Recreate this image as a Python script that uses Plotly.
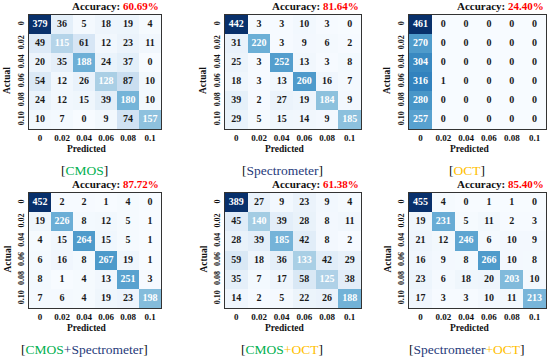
import plotly.graph_objects as go

pred_labels = ["0", "0.02", "0.04", "0.06", "0.08", "0.1"]
actual_labels = ["0", "0.02", "0.04", "0.06", "0.08", "0.10"]

cm_cmos = [[379, 36, 5, 18, 19, 4],
           [49, 115, 61, 12, 23, 11],
           [20, 35, 188, 24, 37, 0],
           [54, 12, 26, 128, 87, 10],
           [24, 12, 15, 39, 180, 10],
           [10, 7, 0, 9, 74, 157]]
cm_spec = [[442, 3, 3, 10, 3, 0],
           [31, 220, 3, 9, 6, 2],
           [25, 3, 252, 13, 3, 8],
           [18, 3, 13, 260, 16, 7],
           [39, 2, 27, 19, 184, 9],
           [29, 5, 15, 14, 9, 185]]
cm_oct = [[461, 0, 0, 0, 0, 0],
          [270, 0, 0, 0, 0, 0],
          [304, 0, 0, 0, 0, 0],
          [316, 1, 0, 0, 0, 0],
          [280, 0, 0, 0, 0, 0],
          [257, 0, 0, 0, 0, 0]]
cm_cmos_spec = [[452, 2, 2, 1, 4, 0],
                [19, 226, 8, 12, 5, 1],
                [4, 15, 264, 15, 5, 1],
                [6, 16, 8, 267, 19, 1],
                [8, 1, 4, 13, 251, 3],
                [7, 6, 4, 19, 23, 198]]
cm_cmos_oct = [[389, 27, 9, 23, 9, 4],
               [45, 140, 39, 28, 8, 11],
               [28, 39, 185, 42, 8, 2],
               [59, 18, 36, 133, 42, 29],
               [35, 7, 17, 58, 125, 38],
               [14, 2, 5, 22, 26, 188]]
cm_spec_oct = [[455, 4, 0, 1, 1, 0],
               [19, 231, 5, 11, 2, 3],
               [21, 12, 246, 6, 10, 9],
               [16, 9, 8, 266, 10, 8],
               [23, 6, 18, 20, 203, 10],
               [17, 3, 3, 10, 11, 213]]

accuracies = ["60.69%", "81.64%", "24.40%", "87.72%", "61.38%", "85.40%"]

GREEN = "#00B050"
BLUE = "#1F3A7A"
GOLD = "#FFC000"
def sp(t, c):
    return f"<span style='color:{c}'>{t}</span>"
names = [
    "[" + sp("CMOS", GREEN) + "]",
    "[" + sp("Spectrometer", BLUE) + "]",
    "[" + sp("OCT", GOLD) + "]",
    "[" + sp("CMOS", GREEN) + sp("+Spectrometer", BLUE) + "]",
    "[" + sp("CMOS", GREEN) + sp("+", GOLD) + sp("OCT", GOLD) + "]",
    "[" + sp("Spectrometer", BLUE) + sp("+", GOLD) + sp("OCT", GOLD) + "]",
]

mats = [cm_cmos, cm_spec, cm_oct, cm_cmos_spec, cm_cmos_oct, cm_spec_oct]

W, H = 550, 360
# layout in pixels
xboxes = [(29, 161), (225, 361), (409, 546)]
yboxes = [(15, 129), (193, 308)]

SERIF = "Liberation Serif, Times New Roman, serif"
fig = go.Figure()
annotations = []
for i, m in enumerate(mats):
    r, c = divmod(i, 3)
    xa = "x" if i == 0 else f"x{i+1}"
    ya = "y" if i == 0 else f"y{i+1}"
    mx = max(max(row) for row in m)
    fig.add_trace(go.Heatmap(
        z=m, x=pred_labels, y=actual_labels, colorscale="Blues",
        zmin=0, zmax=mx, showscale=False, xaxis=xa, yaxis=ya,
        xgap=0, ygap=0, hoverinfo="z"))
    xs, ys, ts, cs = [], [], [], []
    for a, row in enumerate(m):
        for p, v in enumerate(row):
            xs.append(pred_labels[p]); ys.append(actual_labels[a])
            ts.append(f"<b>{v}</b>")
            cs.append("white" if v > 0.25 * mx else "#1a1a1a")
    fig.add_trace(go.Scatter(x=xs, y=ys, text=ts, mode="text",
                             textfont=dict(color=cs, size=10, family=SERIF),
                             xaxis=xa, yaxis=ya, hoverinfo="skip", showlegend=False))
    x0, x1 = xboxes[c]
    y0, y1 = yboxes[r]
    axx = dict(domain=[x0 / W, x1 / W], anchor=ya, showline=True, mirror=True,
               linecolor="#333", linewidth=1, ticks="", showgrid=False, zeroline=False,
               tickfont=dict(family=SERIF, size=9, color="#111"), ticklabelstandoff=0,
               tickvals=pred_labels, ticktext=[f"<b>{t}</b>" for t in pred_labels])
    axy = dict(domain=[1 - y1 / H, 1 - y0 / H], anchor=xa, showline=True, mirror=True,
               linecolor="#333", linewidth=1, ticks="", showgrid=False, zeroline=False,
               autorange="reversed", tickangle=-90, ticklabelstandoff=1,
               tickfont=dict(family=SERIF, size=8, color="#111"),
               tickvals=actual_labels, ticktext=[f"<b>{t}</b>" for t in actual_labels])
    fig.layout[f"xaxis{'' if i == 0 else i+1}"] = axx
    fig.layout[f"yaxis{'' if i == 0 else i+1}"] = axy
    # accuracy
    annotations.append(dict(x=x1 / W, y=1 - (y0 - 9) / H, xref="paper", yref="paper",
                            xanchor="right", yanchor="middle", showarrow=False,
                            text="<b>Accuracy: </b>" + sp(f"<b>{accuracies[i]}</b>", "#FF0000"),
                            font=dict(family=SERIF, size=11, color="#111")))
    # Predicted
    annotations.append(dict(x=((x0 + x1) / 2 - 8) / W, y=1 - (y1 + 20) / H, xref="paper", yref="paper",
                            xanchor="center", yanchor="middle", showarrow=False,
                            text="<b>Predicted</b>", font=dict(family=SERIF, size=9.5, color="#111")))
    # Actual
    annotations.append(dict(x=(x0 - 22) / W, y=1 - ((y0 + y1) / 2 + 9) / H, xref="paper", yref="paper",
                            xanchor="center", yanchor="middle", showarrow=False, textangle=-90,
                            text="<b>Actual</b>", font=dict(family=SERIF, size=9.5, color="#111")))
    # name
    annotations.append(dict(x=((x0 + x1) / 2 - 11) / W, y=1 - (y1 + 41) / H, xref="paper", yref="paper",
                            xanchor="center", yanchor="middle", showarrow=False,
                            text=names[i], font=dict(family=SERIF, size=13.5, color="#111")))

fig.update_layout(width=W, height=H, margin=dict(l=0, r=0, t=0, b=0),
                  paper_bgcolor="white", plot_bgcolor="white", showlegend=False,
                  annotations=annotations)
fig.write_html("out.html", config={"displayModeBar": False},
               post_script="document.body.style.margin='0';document.body.style.overflow='hidden';")
